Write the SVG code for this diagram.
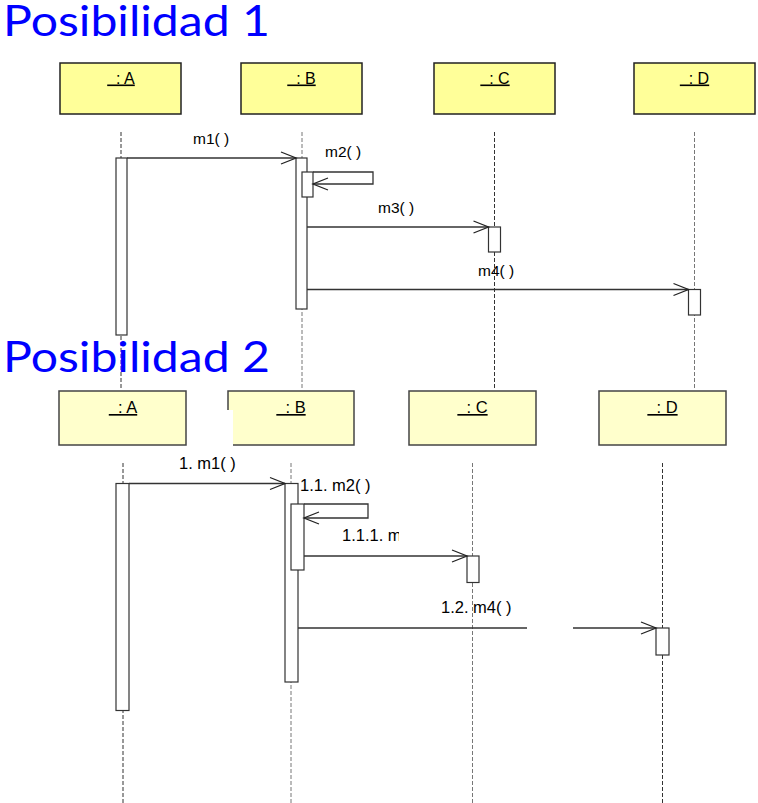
<svg xmlns="http://www.w3.org/2000/svg" width="758" height="803" viewBox="0 0 758 803">
<style>
.title{font-family:Lato,"Open Sans","Noto Sans",sans-serif;font-size:42px;fill:#0000ff}
.box1{fill:#ffff99;stroke:#222;stroke-width:1.5}
.box2{fill:#ffffcc;stroke:#444;stroke-width:1.5}
.lbl1{font-family:"Liberation Sans",Arial,sans-serif;font-size:16px;fill:#000;text-anchor:middle;text-decoration:underline}
.lbl2{font-family:"Liberation Sans",Arial,sans-serif;font-size:16.5px;fill:#000;text-anchor:middle;text-decoration:underline}
.life{stroke:#333;stroke-width:1;stroke-dasharray:4 2;fill:none}
.lifeg{stroke:#777;stroke-width:1;stroke-dasharray:4 2;fill:none}
.act{fill:#fff;stroke:#333;stroke-width:1.2}
.msg{stroke:#333;stroke-width:1.3;fill:none;marker-end:url(#open)}
.mt1{font-family:"Liberation Sans",Arial,sans-serif;font-size:15.5px;fill:#000}
.mt2{font-family:"Liberation Sans",Arial,sans-serif;font-size:16.5px;fill:#000}
</style>
<defs>
<marker id="open" markerUnits="userSpaceOnUse" markerWidth="17" markerHeight="14" refX="15" refY="6.5" orient="auto" overflow="visible">
<path d="M0,0.5 L15,6.5 L0,12.5" fill="none" stroke="#222" stroke-width="1.3"/>
</marker>
<clipPath id="clip111"><rect x="330" y="520" width="69" height="30"/></clipPath>
</defs>
<rect width="758" height="803" fill="#fff"/>

<text class="title" x="3" y="36" textLength="267" lengthAdjust="spacingAndGlyphs">Posibilidad 1</text>

<g id="lifelines1">
<line class="life" x1="121" y1="132" x2="121" y2="390"/>
<line class="lifeg" x1="302" y1="132" x2="302" y2="390"/>
<line class="life" x1="494.5" y1="132" x2="494.5" y2="390"/>
<line class="lifeg" x1="694.5" y1="132" x2="694.5" y2="390"/>
</g>

<text class="title" x="3" y="372" textLength="267" lengthAdjust="spacingAndGlyphs">Posibilidad 2</text>

<g id="p1-A">
<rect class="box1" x="60" y="63" width="121" height="51"/>
<text class="lbl1" x="121" y="83.5">&#160;&#160;: A</text>
<rect class="act" x="116" y="158" width="11" height="177"/>
</g>
<g id="p1-B">
<rect class="box1" x="241" y="63" width="121" height="51"/>
<text class="lbl1" x="301.5" y="83.5">&#160;&#160;: B</text>
<rect class="act" x="296" y="158" width="11" height="151"/>
<rect class="act" x="302" y="172" width="11" height="25"/>
</g>
<g id="p1-C">
<rect class="box1" x="434" y="63" width="121" height="51"/>
<text class="lbl1" x="495" y="83.5">&#160;&#160;: C</text>
<rect class="act" x="488.5" y="227" width="12" height="25"/>
</g>
<g id="p1-D">
<rect class="box1" x="634" y="63" width="121" height="51"/>
<text class="lbl1" x="694.5" y="83.5">&#160;&#160;: D</text>
<rect class="act" x="688.5" y="289.5" width="12" height="25.5"/>
</g>

<g id="lifelines2">
<line class="life" x1="123" y1="463" x2="123" y2="803"/>
<line class="lifeg" x1="291" y1="463" x2="291" y2="803"/>
<line class="lifeg" x1="472.5" y1="463" x2="472.5" y2="803"/>
<line class="life" x1="662.5" y1="463" x2="662.5" y2="803"/>
</g>
<g id="p2-A">
<rect class="box2" x="59" y="391" width="127" height="54"/>
<text class="lbl2" x="123" y="413">&#160;&#160;: A</text>
<rect class="act" x="116" y="483.5" width="13" height="227"/>
</g>
<g id="p2-B">
<rect class="box2" x="228" y="391" width="126" height="54"/>
<rect x="226" y="410" width="7" height="37" fill="#fff"/>
<text class="lbl2" x="291" y="413">&#160;&#160;: B</text>
<rect class="act" x="285" y="483.5" width="13" height="198.5"/>
<rect class="act" x="291" y="504" width="13" height="66"/>
</g>
<g id="p2-C">
<rect class="box2" x="409" y="391" width="127" height="54"/>
<text class="lbl2" x="472.5" y="413">&#160;&#160;: C</text>
<rect class="act" x="467" y="556" width="12" height="26.5"/>
</g>
<g id="p2-D">
<rect class="box2" x="599" y="391" width="127" height="54"/>
<text class="lbl2" x="662.5" y="413">&#160;&#160;: D</text>
<rect class="act" x="656" y="628" width="13" height="27"/>
</g>

<g id="connectors">
<path class="msg" d="M127,158 H296"/>
<path class="msg" d="M313,172 H373 V184 H313"/>
<path class="msg" d="M307,227 H488.5"/>
<path class="msg" d="M307,289.5 H688.5"/>
<path class="msg" d="M129,483.5 H285"/>
<path class="msg" d="M304,504 H368 V518 H304"/>
<path class="msg" d="M304,556 H467"/>
<path class="msg" d="M298,628 H527 M573,628 H656"/>
</g>

<g id="labels">
<text class="mt1" x="193" y="144">m1( )</text>
<text class="mt1" x="325" y="157">m2( )</text>
<text class="mt1" x="378" y="213">m3( )</text>
<text class="mt1" x="478" y="276">m4( )</text>
<text class="mt2" x="179" y="469">1. m1( )</text>
<text class="mt2" x="300" y="491">1.1. m2( )</text>
<text class="mt2" x="342" y="541" clip-path="url(#clip111)">1.1.1. m</text>
<text class="mt2" x="441" y="613">1.2. m4( )</text>
</g>
</svg>
